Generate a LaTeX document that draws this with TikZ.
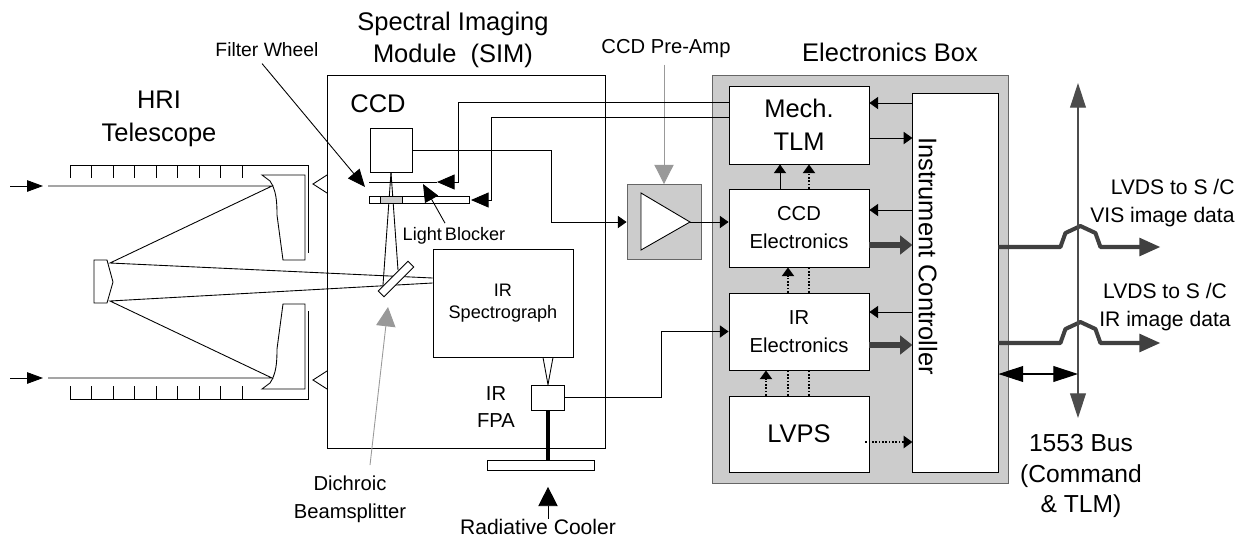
\documentclass[tikz,border=0pt]{standalone}
\usepackage{fontspec}
\setmainfont{Liberation Sans}
\usetikzlibrary{arrows.meta,calc}

\tikzset{
  box/.style={draw, fill=white, inner sep=0pt},
  big/.style={font=\fontsize{14.5}{18.5}\selectfont, align=center, inner sep=0pt},
  med/.style={font=\fontsize{11.5}{15.9}\selectfont, align=center, inner sep=0pt},
  sml/.style={font=\fontsize{10.3}{12.5}\selectfont, align=center},
  sarr/.style={-{Triangle[length=5pt,width=7pt]}},
  barr/.style={-{Triangle[length=10pt,width=8.5pt]}},
  rarr/.style={-{Triangle[length=9pt,width=6.5pt]}},
  garr/.style={draw=gray!80, -{Triangle[length=11pt,width=11pt]}},
  pwr/.style={densely dotted, line width=0.9pt},
  fat/.style={draw=black!75, line width=3pt, -{Triangle[length=7pt,width=10.5pt]}},
  data/.style={draw=black!75, line width=2.3pt, line join=round, -{Triangle[length=12pt,width=10pt]}},
  bus/.style={draw=black!70, line width=0.6pt, {Triangle[length=14pt,width=9pt]}-{Triangle[length=14pt,width=9pt]}},
}

\begin{document}
\begin{tikzpicture}[x=0.02cm, y=-0.02cm, line width=0.5pt]
\useasboundingbox (0,0) rectangle (1249,539);

	% HRI telescope
	\draw (70,165) -- (308,165) -- (308,253);
	\draw (70,399) -- (308,399) -- (308,311);
	\foreach \i in {0,...,8} {
		\draw ({70+21.5*\i},165) -- ++(0,13);
		\draw ({70+21.5*\i},399) -- ++(0,-13);
	}
	\draw (262,175) -- (270,181) .. controls (276,190) and (277,200) .. (277,215) -- (283,260) -- (305,260) -- (305,175) -- cycle;
	\draw (262,389) -- (270,383) .. controls (276,374) and (277,364) .. (277,349) -- (283,304) -- (305,304) -- (305,389) -- cycle;
	\draw (94,260) -- (107,260) -- (113,282) -- (107,303) -- (94,303) -- cycle;
	\draw[rarr] (10,186) -- (43,186);
	\draw[rarr] (10,378) -- (43,378);
	\node[big] (hri) at (159,119) {HRI\\Telescope};

	% spectral imaging module
	\draw (327,75) rectangle (605,448);
	\draw (327,175) -- (313,184) -- (327,193);
	\draw (327,371) -- (313,380) -- (327,389);
	\node[big] (simlbl) at (453,40) {Spectral Imaging\\Module~~(SIM)};
	\node[big] (ccdlbl) at (378,104) {CCD};
	\node[box, minimum width=0.84cm, minimum height=0.88cm] (ccd) at (391,150) {};
	\node[box, sml, minimum width=2.8cm, minimum height=2.16cm] (irs) at (503,303) {IR\\Spectrograph};
	\node[box, minimum width=0.66cm, minimum height=0.5cm] (fpa) at (548,397.5) {};
	\node[draw, inner sep=0pt, minimum width=2.14cm, minimum height=0.2cm] (cooler) at (540.5,465) {};

	\draw (48,186) -- (272,186) -- (110,263) -- ($(irs.west)+(0,-25)$);
	\draw (48,378) -- (272,378) -- (110,301) -- ($(irs.west)+(0,-20)$);
	\draw (ccd.south) -- (383,285);
	\draw (ccd.south) -- (398,270);
	\node[box, minimum width=0.84cm, minimum height=0.16cm, rotate=45] (bs) at (396,279) {};

	\coordinate (fwR) at (437,182);
	\coordinate (lbR) at (471,200);
	\coordinate (fwtip) at (365,187);
	\coordinate (lbtip) at (423,184);
	\draw (369,182) -- (fwR);
	\draw (369,196) rectangle (469,203);
	\draw[fill=gray!40] (380,196) rectangle (402,203);

	\draw ($(irs.south)+(40,0)$) -- (fpa.north);
	\draw ($(irs.south)+(50,0)$) -- (fpa.north);
	\draw[line width=2.5pt] (fpa.south) -- (fpa.south |- cooler.north);
	\node[sml, font=\fontsize{11.5}{15.3}\selectfont] (fpalbl) at (496,407) {IR\\FPA};

	% labels
	\node[med, font=\fontsize{11}{14}\selectfont] (fwlbl) at (267,50) {Filter Wheel};
	\draw[barr] ($(fwlbl.south)+(-5,6)$) -- (fwtip);
	\node[med, font=\fontsize{10.3}{12.5}\selectfont] (lblbl) at (454,236) {Light\,Blocker};
	\draw[barr] ($(lblbl.north)+(-9,-4)$) -- (lbtip);
	\node[med] (bslbl) at (350,499) {Dichroic\\Beamsplitter};
	\draw[garr] ($(bslbl.north)+(20,-10)$) -- (388,307);
	\node[med, font=\fontsize{12}{14}\selectfont] (rclbl) at (538,527) {Radiative Cooler};
	\draw[draw=black, -{Triangle[length=11pt,width=11pt]}] (rclbl.north -| fpa.south) -- ++(0,-32);

	% pre-amp
	\node[draw=black!60, fill=gray!40, minimum width=1.48cm, minimum height=1.5cm] (amp) at (664,222) {};
	\draw[fill=white] (amp.center) ++(-23,-29) -- ++(0,57) -- ++(49,-28) -- cycle;
	\coordinate (ampout) at ($(amp.center)+(26,0)$);
	\node[med, font=\fontsize{11.5}{14}\selectfont] (amplbl) at (666,49) {CCD Pre-Amp};
	\draw[garr] (amplbl.south -| amp.north) ++(0,6) -- (amp.north);
	\draw[sarr] (ccd.east) -- ++(139,0) |- (amp.west);

	% electronics box
	\draw[draw=black!60, fill=gray!40] (712,75) rectangle (1008,483);
	\node[big] (eboxlbl) at (890,52) {Electronics Box};
	\node[box, big, minimum width=2.8cm, minimum height=1.56cm] (mech) at (799,125) {Mech.\\TLM};
	\node[box, med, minimum width=2.8cm, minimum height=1.56cm] (ccde) at (799,228) {CCD\\Electronics};
	\node[box, med, minimum width=2.8cm, minimum height=1.54cm] (ire) at (799,331.5) {IR\\Electronics};
	\node[box, big, minimum width=2.8cm, minimum height=1.52cm] (lvps) at (799,434) {LVPS};
	\node[box, minimum width=1.72cm, minimum height=7.58cm] (ic) at (955,282.5) {};
	\node[big, rotate=-90] (iclbl) at (928,256) {Instrument Controller};

	\draw[sarr] (ampout) -- (ampout -| ccde.west);
	\draw[sarr] (fpa.east) -- ++(96,0) |- (ire.west);
	\draw[barr] ($(mech.north west)+(0,17)$) -| ($(fwR)+(21,0)$) -- (fwR);
	\draw[barr] ($(mech.north west)+(0,32)$) -| ($(lbR)+(20,0)$) -- (lbR);

	\foreach \n/\dy in {mech/-22, ccde/-18, ire/-19.5}
		\draw[sarr] ($(\n.east)+(43,\dy)$) -- ++(-43,0);
	\draw[sarr] ($(mech.east)+(0,13)$) -- ++(43,0);
	\foreach \n/\dy in {ccde/17, ire/13.5}
		\draw[fat] ($(\n.east)+(0,\dy)$) -- ++(43,0);
	\draw[pwr, sarr] ($(lvps.east)+(-4,8)$) -- ++(47,0);

	\draw[sarr] ($(ccde.north)+(-19,0)$) -- ($(mech.south)+(-19,0)$);
	\draw[pwr, sarr] ($(ccde.north)+(10,0)$) -- ($(mech.south)+(10,0)$);
	\draw[pwr, sarr] ($(ire.north)+(-11,0)$) -- ($(ccde.south)+(-11,0)$);
	\draw[pwr] ($(ire.north)+(10,0)$) -- ($(ccde.south)+(10,0)$);
	\draw[pwr, sarr] ($(lvps.north)+(-33,0)$) -- ($(ire.south)+(-33,0)$);
	\foreach \dx in {-11,10}
		\draw[pwr] ($(lvps.north)+(\dx,0)$) -- ($(ire.south)+(\dx,0)$);

	% outputs and bus
	\coordinate (bustop) at (1078,83);
	\coordinate (busbot) at (1078,418);
	\coordinate (c1553) at ($(ic.east)+(0,91.5)$);
	\foreach \dy in {-35.5, 60.5}
		\draw[data] ($(ic.east)+(0,\dy)$) -- ++(62,0) -- ++(5,-14) -- ++(15,-7) -- ++(15,7) -- ++(5,14) -- ++(60,0);
	\draw[bus] (bustop) -- (busbot);
	\draw[bus, draw=black] (c1553) -- (c1553 -| bustop);
	\node[med, font=\fontsize{12}{15.9}\selectfont, align=right, anchor=east] (vislbl) at (1235,203) {LVDS to S /C\\VIS image data};
	\node[med, font=\fontsize{12}{15.9}\selectfont] (irlbl) at (1165,307) {LVDS to S /C\\IR image data};
	\node[big, font=\fontsize{14}{17.6}\selectfont] (buslbl) at (1081,476) {1553 Bus\\(Command\\\& TLM)};

\end{tikzpicture}
\end{document}
